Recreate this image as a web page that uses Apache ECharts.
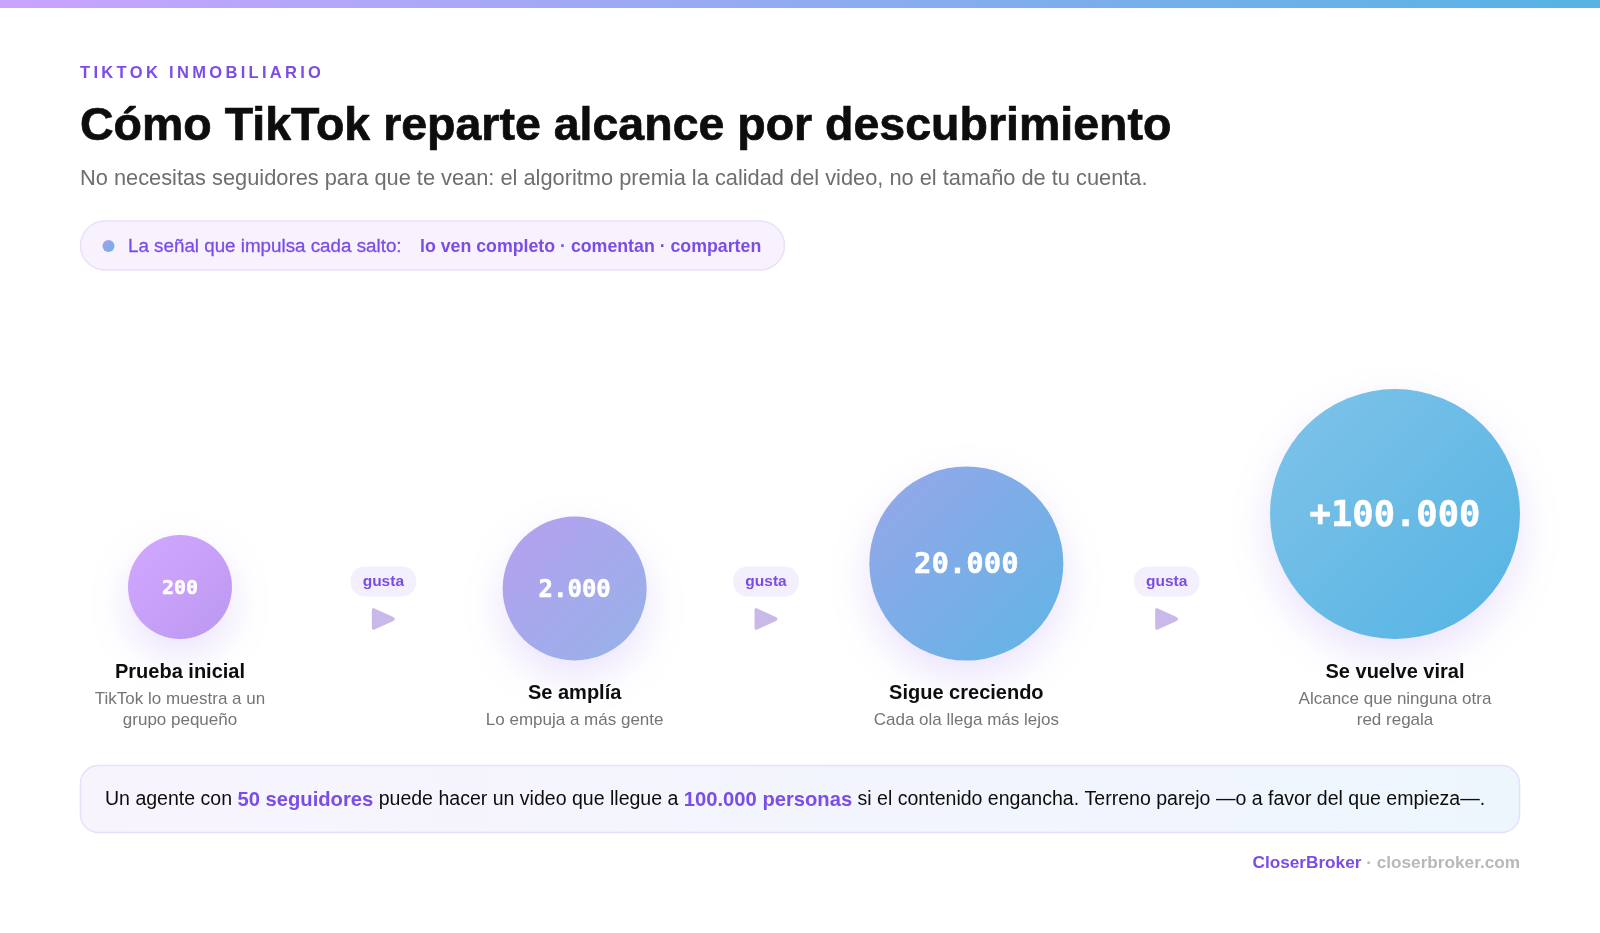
<!DOCTYPE html>
<html lang="es">
<head>
	<meta charset="UTF-8">
	<title>Cómo TikTok reparte alcance por descubrimiento</title>
	<style>
		html, body { margin: 0; padding: 0; background: #fff; }
		#main { width: 1600px; height: 933px; }
	</style>
</head>
<body>
	<div id="main"></div>
	<script src="https://cdn.jsdelivr.net/npm/echarts@6/dist/echarts.min.js"></script>
	<script>
		// data
		var stageValues = [200, 2000, 20000, 100000];
		var stageLabels = ['200', '2.000', '20.000', '+100.000'];
		var stageTitles = ['Prueba inicial', 'Se amplía', 'Sigue creciendo', 'Se vuelve viral'];
		var stageNotes = [
			['TikTok lo muestra a un', 'grupo pequeño'],
			['Lo empuja a más gente'],
			['Cada ola llega más lejos'],
			['Alcance que ninguna otra', 'red regala']
		];
		var connectorLabels = ['gusta', 'gusta', 'gusta'];

		// layout and style, kept apart from the data
		var PLOT_LEFT = 80, PLOT_RIGHT = 1520, CAPTION_BOTTOM = 731;
		var columnWidths = [200, 176, 194, 250];
		var bubbleSizes = { 200: 104, 2000: 144, 20000: 194, 100000: 250 };
		var valueFonts = { 200: 20, 2000: 24, 20000: 29, 100000: 35.5 };
		var bubbleGradients = [
			['#d2a8ff', '#bc98f0'],
			['#b79ff0', '#95b3e8'],
			['#98a6e9', '#5fb5e5'],
			['#80c3e9', '#54b4e3']
		];
		var SANS = '"Liberation Sans", Arial, sans-serif';
		var MONO = '"DejaVu Sans Mono", monospace';
		var PURPLE = '#7a4de8';

		function gradient(x2, y2, c0, c1) {
			return { type: 'linear', x: 0, y: 0, x2: x2, y2: y2, colorStops: [{ offset: 0, color: c0 }, { offset: 1, color: c1 }] };
		}

		// columns are spread like a flex row: equal gaps between them
		var used = columnWidths.reduce(function (a, b) { return a + b; }, 0);
		var gap = (PLOT_RIGHT - PLOT_LEFT - used) / (columnWidths.length - 1);
		var stageX = [], connectorX = [], cursor = PLOT_LEFT;
		columnWidths.forEach(function (w, i) {
			stageX.push(cursor + w / 2);
			if (i < columnWidths.length - 1) connectorX.push(cursor + w + gap / 2);
			cursor += w + gap;
		});

		var bubbleData = stageValues.map(function (v, i) {
			var size = bubbleSizes[v];
			var bottom = CAPTION_BOTTOM - 49 - stageNotes[i].length * 21.5;
			return {
				value: [stageX[i], bottom - size / 2, v],
				symbolSize: size,
				itemStyle: { color: gradient(1, 1, bubbleGradients[i][0], bubbleGradients[i][1]) },
				label: { formatter: stageLabels[i], fontSize: valueFonts[v], offset: [0, Math.ceil(valueFonts[v] * 0.06)] }
			};
		});
		var captionData = stageTitles.map(function (t, i) {
			return {
				value: [stageX[i], CAPTION_BOTTOM],
				label: {
					formatter: '{t|' + t + '}\n' + stageNotes[i].map(function (n) { return '{d|' + n + '}'; }).join('\n')
				}
			};
		});

		var option = {
			animation: false,
			backgroundColor: '#fff',
			grid: { left: 0, right: 0, top: 0, bottom: 0 },
			xAxis: { type: 'value', min: 0, max: 1600, show: false },
			yAxis: { type: 'value', min: 0, max: 933, inverse: true, show: false },
			series: [
				{
					type: 'scatter',
					name: 'Alcance',
					silent: true,
					data: bubbleData,
					itemStyle: { opacity: 1, shadowBlur: 42, shadowOffsetY: 16, shadowColor: 'rgba(122,77,232,0.16)' },
					label: { show: true, position: 'inside', color: '#fff', fontFamily: MONO, fontWeight: 'bold', textBorderColor: '#fff', textBorderWidth: 0.5 }
				},
				{
					type: 'scatter',
					name: 'Pasos',
					silent: true,
					symbolSize: 0,
					data: captionData,
					itemStyle: { opacity: 1 },
					label: {
						show: true,
						position: 'top',
						distance: 0,
						align: 'center',
						rich: {
							t: { fontFamily: SANS, fontSize: 20, fontWeight: 'bold', color: '#0d0d0d', lineHeight: 34, align: 'center' },
							d: { fontFamily: SANS, fontSize: 17, color: '#757575', lineHeight: 21, align: 'center' }
						}
					}
				},
				{
					type: 'scatter',
					name: 'gusta',
					silent: true,
					symbolSize: 0,
					data: connectorLabels.map(function (t, i) { return { value: [connectorX[i], 581.5], label: { formatter: t } }; }),
					itemStyle: { opacity: 1 },
					label: {
						show: true,
						position: 'inside',
						color: PURPLE,
						fontFamily: SANS,
						fontSize: 15.5,
						fontWeight: 'bold',
						backgroundColor: '#f4effd',
						borderRadius: 14,
						padding: [7, 12]
					}
				},
				{
					type: 'scatter',
					name: 'flecha',
					silent: true,
					symbol: 'path://M4 1 Q1 -1 1 3 V19 Q1 23 4 21 L21 13 Q24 11 21 9 Z',
					symbolSize: [23, 22],
					data: connectorX.map(function (x) { return [x, 619]; }),
					itemStyle: { color: '#c8b9e8', opacity: 1 }
				}
			],
			graphic: [
				{ type: 'rect', shape: { x: 0, y: 0, width: 1600, height: 8 }, style: { fill: gradient(1, 0, '#cba3fe', '#55b4e3') } },
				{ type: 'text', x: 80, y: 73, style: { text: 'T\u2009I\u2009K\u2009T\u2009O\u2009K\u2009 \u2009I\u2009N\u2009M\u2009O\u2009B\u2009I\u2009L\u2009I\u2009A\u2009R\u2009I\u2009O', fill: PURPLE, font: 'bold 16.5px ' + SANS, verticalAlign: 'middle' } },
				{ type: 'text', x: 80, y: 127, style: { text: 'Cómo TikTok reparte alcance por descubrimiento', fill: '#0d0d0d', stroke: '#0d0d0d', lineWidth: 0.7, font: 'bold 46.5px ' + SANS, verticalAlign: 'middle' } },
				{ type: 'text', x: 80, y: 179, style: { text: 'No necesitas seguidores para que te vean: el algoritmo premia la calidad del video, no el tamaño de tu cuenta.', fill: '#6e6e6e', font: '21.8px ' + SANS, verticalAlign: 'middle' } },
				{ type: 'rect', shape: { x: 80.5, y: 221, width: 704, height: 49, r: 24.5 }, style: { fill: '#f7f2fe', stroke: '#ebe0fb', lineWidth: 1.5 } },
				{ type: 'circle', shape: { cx: 108.5, cy: 246, r: 6 }, style: { fill: gradient(1, 1, '#a99eee', '#6bb3e6') } },
				{ type: 'text', x: 128, y: 247, style: { text: 'La señal que impulsa cada salto:', fill: PURPLE, stroke: PURPLE, lineWidth: 0.3, font: '18.8px ' + SANS, verticalAlign: 'middle' } },
				{ type: 'text', x: 420, y: 247, style: { text: 'lo ven completo · comentan · comparten', fill: PURPLE, font: 'bold 17.75px ' + SANS, verticalAlign: 'middle' } },
				{ type: 'rect', shape: { x: 80.5, y: 765.5, width: 1439, height: 67, r: 18 }, style: { fill: gradient(1, 0, '#f8f4fe', '#eef6fd'), stroke: '#e8e0fa', lineWidth: 1.5 } },
				{
					type: 'text', x: 105, y: 800,
					style: {
						text: '{n|Un agente con }{b|50 seguidores}{n| puede hacer un video que llegue a }{b|100.000 personas}{n| si el contenido engancha. Terreno parejo —o a favor del que empieza—.}',
						verticalAlign: 'middle',
						rich: {
							n: { font: '19.55px ' + SANS, fill: '#0d0d0d' },
							b: { font: 'bold 20.2px ' + SANS, fill: PURPLE }
						}
					}
				},
				{
					type: 'text', x: 1520, y: 863.5,
					style: {
						text: '{b|CloserBroker}{g| · closerbroker.com}',
						align: 'right',
						verticalAlign: 'middle',
						rich: {
							b: { font: 'bold 17.2px ' + SANS, fill: PURPLE },
							g: { font: 'bold 17.2px ' + SANS, fill: '#b8b8b8' }
						}
					}
				}
			]
		};

		var myChart = echarts.init(document.getElementById('main'));
		myChart.setOption(option);
	</script>
</body>
</html>
